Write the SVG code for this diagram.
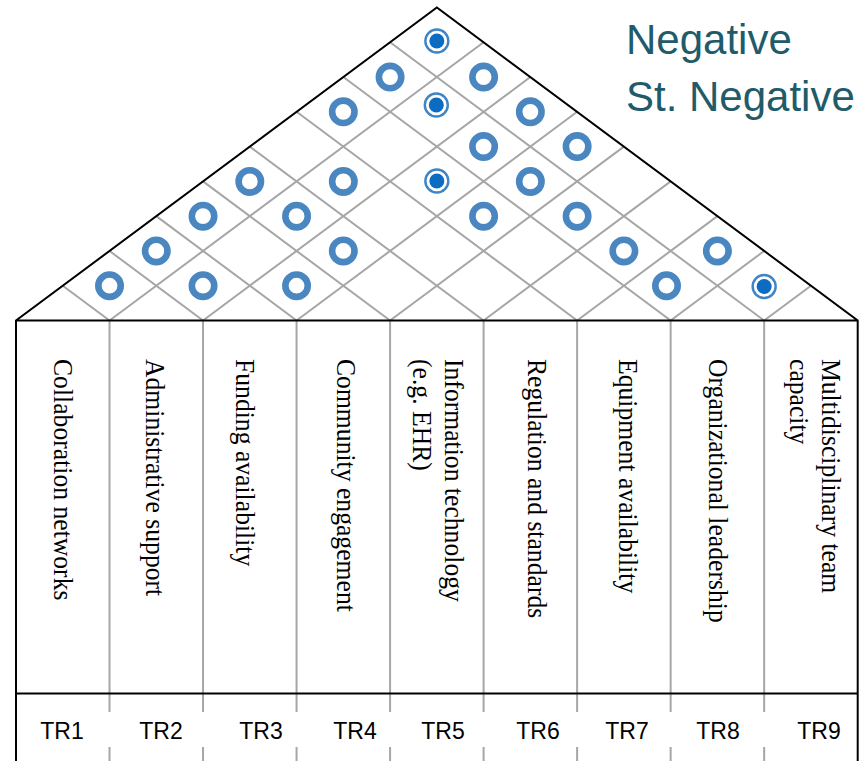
<svg xmlns="http://www.w3.org/2000/svg" width="863" height="761" viewBox="0 0 863 761">
<style>
.frame{stroke:#000;stroke-width:2;fill:none}
.grid{stroke:#a6a6a6;stroke-width:2;fill:none}
.ring{fill:none;stroke:#4a86c0;stroke-width:6.6}
.sring{fill:#fff;stroke:#3f84c6;stroke-width:2.4}
.sdot{fill:#0b6cc1}
.lbl{font-family:"Liberation Serif","Times New Roman",serif;font-size:27px;fill:#000}
.tr{font-family:"Liberation Sans",Arial,sans-serif;font-size:23px;fill:#000;text-anchor:middle}
.leg{font-family:"Liberation Sans",Arial,sans-serif;font-size:42px;fill:#215b6a}
</style>
<defs>
<g id="neg"><circle r="11.2" class="ring"/></g>
<g id="stneg"><circle r="11.5" class="sring"/><circle r="7.5" class="sdot"/></g>
</defs>
<rect width="863" height="761" fill="#fff"/>
<g id="connectors">
<g class="grid">
<path d="M109.52 320.5L62.76 285.72M109.52 320.5L483.61 42.26"/>
<path d="M203.04 320.5L109.52 250.94M203.04 320.5L530.37 77.04"/>
<path d="M296.56 320.5L156.28 216.16M296.56 320.5L577.13 111.82"/>
<path d="M390.08 320.5L203.04 181.38M390.08 320.5L623.89 146.6"/>
<path d="M483.6 320.5L249.8 146.6M483.6 320.5L670.65 181.38"/>
<path d="M577.12 320.5L296.56 111.82M577.12 320.5L717.41 216.16"/>
<path d="M670.64 320.5L343.32 77.04M670.64 320.5L764.17 250.94"/>
<path d="M764.16 320.5L390.08 42.26M764.16 320.5L810.93 285.72"/>
<path d="M109.52 320.5V693M203.04 320.5V693M296.56 320.5V693M390.08 320.5V693M483.6 320.5V693M577.12 320.5V693M670.64 320.5V693M764.16 320.5V693"/>
<path d="M109.52 693V712M203.04 693V712M296.56 693V712M390.08 693V712M483.6 693V712M577.12 693V712M670.64 693V712M764.16 693V712"/>
<path d="M109.52 747V761M203.04 747V761M296.56 747V761M390.08 747V761M483.6 747V761M577.12 747V761M670.64 747V761M764.16 747V761"/>
</g>
<path class="frame" d="M16 761V320.5L436.85 7.5L857.7 320.5V761M16 320.5H857.7M16 693.5H857.7"/>
</g>
<g id="correlations">
<use href="#neg" x="109.52" y="285.72"/>
<use href="#neg" x="203.04" y="285.72"/>
<use href="#neg" x="296.56" y="285.72"/>
<use href="#neg" x="666.5" y="285.72"/>
<use href="#stneg" x="764.16" y="286.5"/>
<use href="#neg" x="156.28" y="250.94"/>
<use href="#neg" x="343.32" y="250.94"/>
<use href="#neg" x="623.88" y="250.94"/>
<use href="#neg" x="717.4" y="250.94"/>
<use href="#neg" x="203.04" y="216.16"/>
<use href="#neg" x="296.56" y="216.16"/>
<use href="#neg" x="483.6" y="216.16"/>
<use href="#neg" x="577.12" y="216.16"/>
<use href="#neg" x="249.8" y="181.38"/>
<use href="#neg" x="343.32" y="181.38"/>
<use href="#stneg" x="436.84" y="181"/>
<use href="#neg" x="530.36" y="181.38"/>
<use href="#neg" x="483.6" y="146.6"/>
<use href="#neg" x="577.12" y="146.6"/>
<use href="#neg" x="343.32" y="111.82"/>
<use href="#stneg" x="436.3" y="105"/>
<use href="#neg" x="530.36" y="111.82"/>
<use href="#neg" x="390.08" y="77.04"/>
<use href="#neg" x="483.6" y="77.04"/>
<use href="#stneg" x="436.84" y="41"/>
</g>
<g id="legend">
<text class="leg" x="626" y="53.5">Negative</text>
<text class="leg" x="626" y="110.5">St. Negative</text>
</g>
<g id="col1"><text class="lbl" transform="translate(54.3,359) rotate(90) scale(0.95,1)">Collaboration networks</text><text class="tr" x="62" y="739">TR1</text></g>
<g id="col2"><text class="lbl" transform="translate(146,359) rotate(90) scale(0.95,1)">Administrative support</text><text class="tr" x="161" y="739">TR2</text></g>
<g id="col3"><text class="lbl" transform="translate(236,359) rotate(90) scale(0.95,1)">Funding availability</text><text class="tr" x="261" y="739">TR3</text></g>
<g id="col4"><text class="lbl" transform="translate(337,359) rotate(90) scale(0.95,1)">Community engagement</text><text class="tr" x="355" y="739">TR4</text></g>
<g id="col5"><text class="lbl" transform="translate(445,359) rotate(90) scale(0.95,1)">Information technology</text><text class="lbl" transform="translate(413.3,359) rotate(90) scale(0.95,1)">(e.g. EHR)</text><text class="tr" x="443" y="739">TR5</text></g>
<g id="col6"><text class="lbl" transform="translate(527.7,359) rotate(90) scale(0.95,1)">Regulation and standards</text><text class="tr" x="538" y="739">TR6</text></g>
<g id="col7"><text class="lbl" transform="translate(619,359) rotate(90) scale(0.95,1)">Equipment availability</text><text class="tr" x="627" y="739">TR7</text></g>
<g id="col8"><text class="lbl" transform="translate(709,359) rotate(90) scale(0.95,1)">Organizational leadership</text><text class="tr" x="718" y="739">TR8</text></g>
<g id="col9"><text class="lbl" transform="translate(821.5,359) rotate(90) scale(0.95,1)">Multidisciplinary team</text><text class="lbl" transform="translate(790,359) rotate(90) scale(0.95,1)">capacity</text><text class="tr" x="819" y="739">TR9</text></g>
</svg>
